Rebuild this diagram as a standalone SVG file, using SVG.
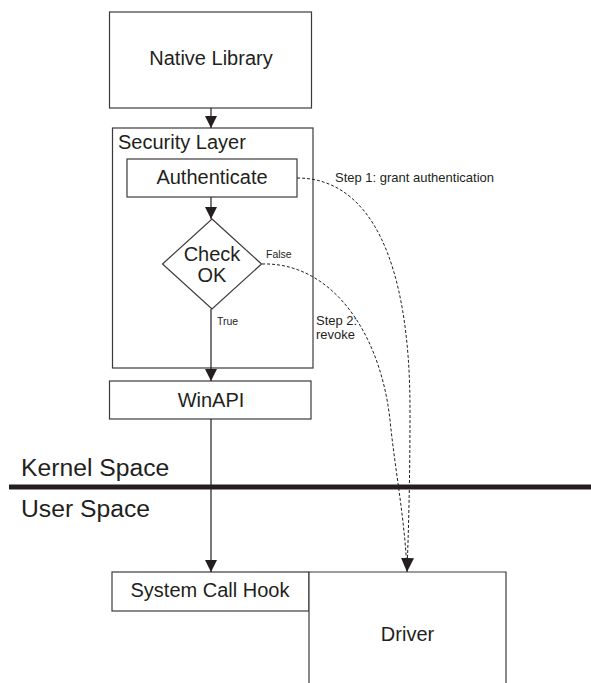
<svg xmlns="http://www.w3.org/2000/svg" width="591" height="683" viewBox="0 0 591 683">
  <style>
    .box { fill: #ffffff; stroke: #3c3a3b; stroke-width: 1.2; }
    .lbl { font-family: "Liberation Sans", Arial, sans-serif; fill: #231f20; }
    .big { font-size: 20px; text-anchor: middle; }
    .small { font-size: 10.5px; }
    .note { font-size: 13px; }
    .space { font-size: 24.7px; }
    .flow { fill: none; stroke: #231f20; stroke-width: 1.2; }
    .dash { fill: none; stroke: #231f20; stroke-width: 1; stroke-dasharray: 3 2; }
  </style>
  <defs>
    <marker id="head" viewBox="0 0 12 12" refX="12" refY="6" markerWidth="12" markerHeight="12" markerUnits="userSpaceOnUse" orient="auto">
      <path d="M0,0 L12,6 L0,12 z" fill="#231f20"/>
    </marker>
    <marker id="head-lg" viewBox="0 0 14 13" refX="14" refY="6.5" markerWidth="14" markerHeight="13" markerUnits="userSpaceOnUse" orient="auto">
      <path d="M0,0 L14,6.5 L0,13 z" fill="#231f20"/>
    </marker>
  </defs>

  <rect width="591" height="683" fill="#ffffff"/>

  <g id="native-library">
    <rect class="box" x="109.5" y="12" width="202" height="96"/>
    <text class="lbl big" x="211" y="65">Native Library</text>
  </g>

  <g id="security-layer">
    <rect class="box" x="112.5" y="128" width="200.5" height="240"/>
    <text class="lbl" x="118" y="149" font-size="20">Security Layer</text>
  </g>

  <g id="authenticate">
    <rect class="box" x="127" y="159" width="170" height="38"/>
    <text class="lbl big" x="212" y="184">Authenticate</text>
  </g>

  <g id="check-ok">
    <polygon class="box" points="212,219 261.5,264 212,309 162.5,264"/>
    <text class="lbl big" x="212" y="261">Check</text>
    <text class="lbl big" x="212" y="282">OK</text>
  </g>

  <g id="winapi">
    <rect class="box" x="109.5" y="381" width="201.5" height="38"/>
    <text class="lbl big" x="211" y="407">WinAPI</text>
  </g>

  <g id="space-boundary">
    <text class="lbl space" x="21" y="476">Kernel Space</text>
    <rect x="9" y="484.5" width="582" height="5" fill="#231f20"/>
    <text class="lbl space" x="21" y="517">User Space</text>
  </g>

  <g id="system-call-hook">
    <rect class="box" x="112" y="572" width="197" height="39"/>
    <text class="lbl big" x="210" y="597">System Call Hook</text>
  </g>

  <g id="driver">
    <path class="box" d="M309,690 V572 H506 V690"/>
    <text class="lbl big" x="407.5" y="641">Driver</text>
  </g>

  <g id="connectors">
    <line class="flow" x1="211" y1="108" x2="211" y2="128" marker-end="url(#head)"/>
    <line class="flow" x1="211" y1="197" x2="211" y2="219" marker-end="url(#head)"/>
    <line class="flow" x1="211" y1="309" x2="211" y2="381" marker-end="url(#head)"/>
    <line class="flow" x1="211" y1="419" x2="211" y2="572" marker-end="url(#head)"/>

    <!-- step 1: grant authentication -->
    <path class="dash" d="M297,178 C370,178 410,260 410,410 C410,480 408.5,530 407,572" marker-end="url(#head-lg)"/>
    <!-- step 2: revoke -->
    <path class="dash" d="M262,264 C330,262 380,330 390,420 C395,470 405,520 407,572"/>

    <text class="lbl small" x="266" y="258">False</text>
    <text class="lbl small" x="217" y="325">True</text>
    <text class="lbl note" x="335" y="182">Step 1: grant authentication</text>
    <text class="lbl note" x="316" y="325">Step 2:</text>
    <text class="lbl note" x="316" y="339">revoke</text>
  </g>
</svg>
